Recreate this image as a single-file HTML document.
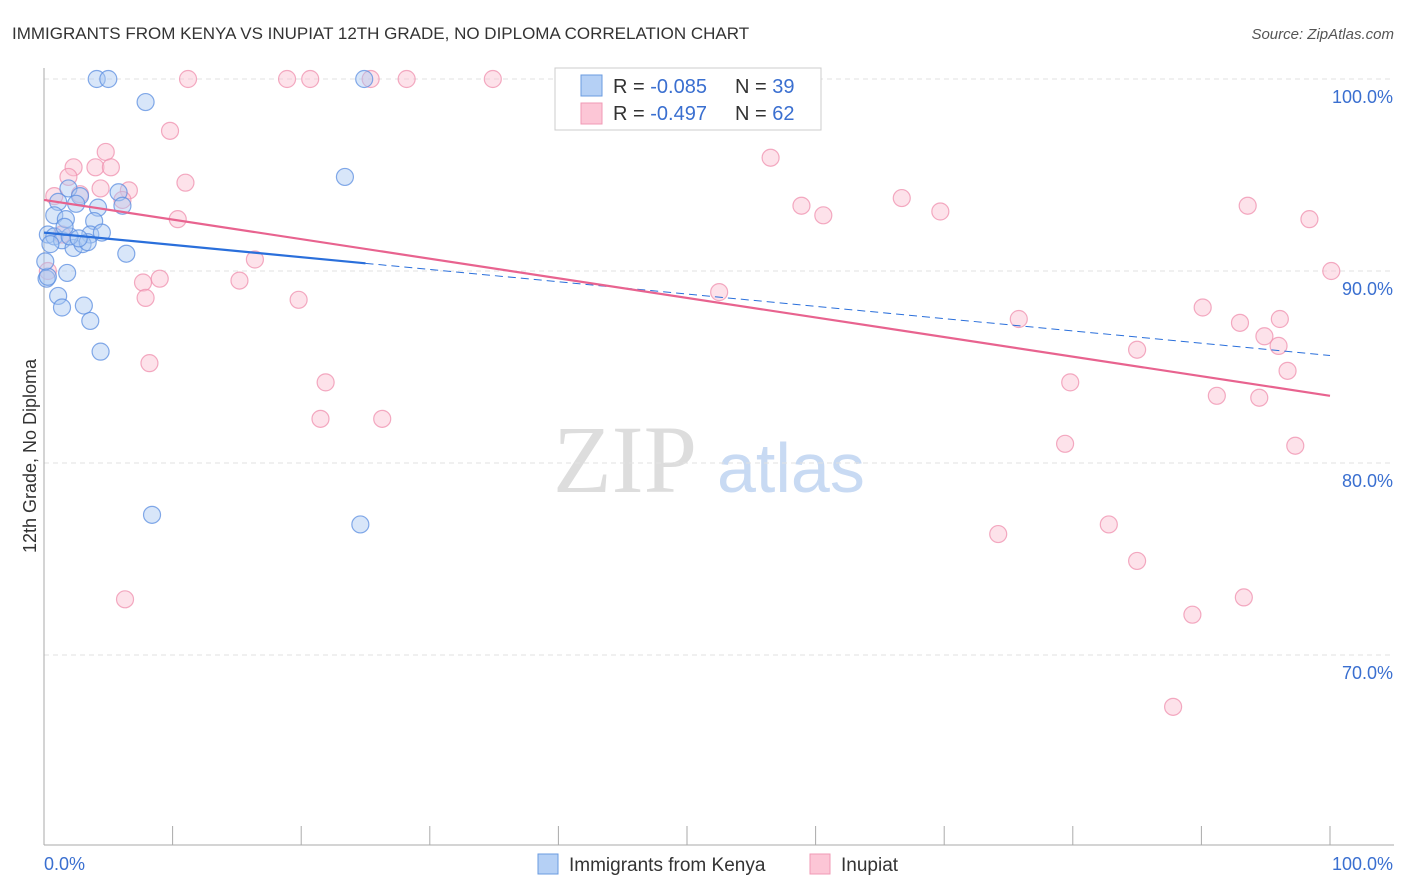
<!DOCTYPE html>
<html><head><meta charset="utf-8"><style>
body{margin:0;background:#fff;font-family:"Liberation Sans",sans-serif;}
svg{display:block}
</style></head><body>
<svg id="chart" width="1406" height="892">
<text x="12" y="39" font-size="17" fill="#333">IMMIGRANTS FROM KENYA VS INUPIAT 12TH GRADE, NO DIPLOMA CORRELATION CHART</text>
<text x="1394" y="39" font-size="15" fill="#555" font-style="italic" text-anchor="end">Source: ZipAtlas.com</text>
<text x="36" y="456" font-size="18" fill="#333" text-anchor="middle" transform="rotate(-90 36 456)">12th Grade, No Diploma</text>
<text x="553" y="492" font-size="96" fill="#ddd" font-family="Liberation Serif,serif">ZIP</text>
<text x="717" y="492" font-size="70" fill="#c8daf3">atlas</text>
<g id="grid"></g><g id="pts"></g><g id="trend"></g>
<g>
<rect x="555" y="68" width="266" height="62" fill="#fff" stroke="#ccc"/>
<rect x="581" y="75" width="21" height="21" fill="#b5d0f5" stroke="#6a9be0"/>
<rect x="581" y="103" width="21" height="21" fill="#fcc6d6" stroke="#f09ab5"/>
<text x="613" y="93" font-size="20" fill="#333">R = <tspan fill="#3a6fd0">-0.085</tspan><tspan x="735">N = </tspan><tspan fill="#3a6fd0">39</tspan></text>
<text x="613" y="120" font-size="20" fill="#333">R = <tspan fill="#3a6fd0"> -0.497</tspan><tspan x="735">N = </tspan><tspan fill="#3a6fd0">62</tspan></text>
</g>
<g>
<rect x="538" y="854" width="20" height="20" fill="#b5d0f5" stroke="#6a9be0"/>
<text x="569" y="871" font-size="19" fill="#333">Immigrants from Kenya</text>
<rect x="810" y="854" width="20" height="20" fill="#fcc6d6" stroke="#f09ab5"/>
<text x="841" y="871" font-size="19" fill="#333">Inupiat</text>
</g>
</svg>
<script>
const yTicks=[100,90,80,70];
const xTickLabels=["0.0%","100.0%"];
const kenyaX=[4.1,5.0,7.9,24.9,23.4,1.9,5.8,2.8,1.1,2.5,4.2,6.1,0.8,1.7,3.9,0.3,0.8,1.4,3.6,2.3,3.0,0.5,3.4,6.4,0.2,1.8,0.3,1.1,1.4,3.1,3.6,4.4,8.4,24.6,0.1,2.0,4.5,2.7,1.6];
const kenyaY=[100,100,98.8,100,94.9,94.3,94.1,93.9,93.6,93.5,93.3,93.4,92.9,92.7,92.6,91.9,91.8,91.6,91.9,91.2,91.4,91.4,91.5,90.9,89.6,89.9,89.7,88.7,88.1,88.2,87.4,85.8,77.3,76.8,90.5,91.8,92.0,91.7,92.3];
const inupiatX=[11.2,18.9,20.7,25.4,28.2,34.9,47.3,9.8,4.8,2.3,4.0,5.2,1.9,4.4,6.6,0.8,2.8,6.1,11.0,10.4,1.4,0.3,16.4,15.2,7.7,9.0,7.9,19.8,8.2,21.9,21.5,26.3,6.3,56.5,58.9,60.6,66.7,69.7,93.6,98.4,100.1,52.5,90.1,75.8,93.0,96.1,94.9,96.0,85.0,96.7,79.8,91.2,94.5,79.4,97.3,74.2,82.8,85.0,93.3,89.3,87.8];
const inupiatY=[100,100,100,100,100,100,100,97.3,96.2,95.4,95.4,95.4,94.9,94.3,94.2,93.9,94.0,93.7,94.6,92.7,91.9,90.0,90.6,89.5,89.4,89.6,88.6,88.5,85.2,84.2,82.3,82.3,72.9,95.9,93.4,92.9,93.8,93.1,93.4,92.7,90.0,88.9,88.1,87.5,87.3,87.5,86.6,86.1,85.9,84.8,84.2,83.5,83.4,81.0,80.9,76.3,76.8,74.9,73.0,72.1,67.3];
const kenyaTrend=[[0,92.0],[25,90.4],[100,85.6]];
const inupiatTrend=[[0,93.7],[100,83.5]];
const NS="http://www.w3.org/2000/svg";
const xS=v=>44+v*12.86, yS=v=>79+(100-v)*19.2;
function mk(tag,at,parent){const e=document.createElementNS(NS,tag);for(const k in at)e.setAttribute(k,at[k]);parent.appendChild(e);return e;}
const grid=document.getElementById('grid'),pts=document.getElementById('pts'),tr=document.getElementById('trend');
yTicks.forEach(t=>{
 const l=mk('line',{x1:44,x2:1394,y1:yS(t),y2:yS(t),stroke:'#e2e2e2','stroke-dasharray':'5,4'},grid);
 
 
 const tx=mk('text',{x:1393,y:yS(t)+24,'font-size':18,fill:'#3a6fd0','text-anchor':'end'},grid);
 tx.textContent=t.toFixed(1)+'%';
 
 
});
const ax=mk('line',{x1:44,x2:44,y1:68,y2:845,stroke:'#aaa'},grid);


const bx=mk('line',{x1:44,x2:1394,y1:845,y2:845,stroke:'#aaa'},grid);


for(let i=0;i<=10;i++){const t=mk('line',{x1:xS(i*10),x2:xS(i*10),y1:826,y2:845,stroke:'#aaa'},grid);
 
 }
[[0,'start'],[100,'end']].forEach((p,i)=>{const t=mk('text',{x:p[0]==0?44:1393,y:870,'font-size':18,fill:'#3a6fd0','text-anchor':p[1]},grid);t.textContent=xTickLabels[i];
 
 });
function dots(X,Y,fill,stroke,name){X.forEach((x,i)=>{const c=mk('circle',{cx:xS(x),cy:yS(Y[i]),r:8.5,fill:fill,'fill-opacity':0.45,stroke:stroke,'stroke-opacity':0.75,'stroke-width':1.2},pts);
 
 });}
dots(inupiatX,inupiatY,'#fbbfd1','#ef8fae','inupiat-point');
dots(kenyaX,kenyaY,'#a9c8f2','#5b8ee0','kenya-point');
const kb=mk('line',{x1:xS(kenyaTrend[0][0]),y1:yS(kenyaTrend[0][1]),x2:xS(kenyaTrend[1][0]),y2:yS(kenyaTrend[1][1]),stroke:'#2a6fdb','stroke-width':2.2},tr);


const kd=mk('line',{x1:xS(kenyaTrend[1][0]),y1:yS(kenyaTrend[1][1]),x2:xS(kenyaTrend[2][0]),y2:yS(kenyaTrend[2][1]),stroke:'#2a6fdb','stroke-width':1,'stroke-dasharray':'8,5'},tr);


const ib=mk('line',{x1:xS(inupiatTrend[0][0]),y1:yS(inupiatTrend[0][1]),x2:xS(inupiatTrend[1][0]),y2:yS(inupiatTrend[1][1]),stroke:'#e8638f','stroke-width':2.2},tr);


</script>
</body></html>
